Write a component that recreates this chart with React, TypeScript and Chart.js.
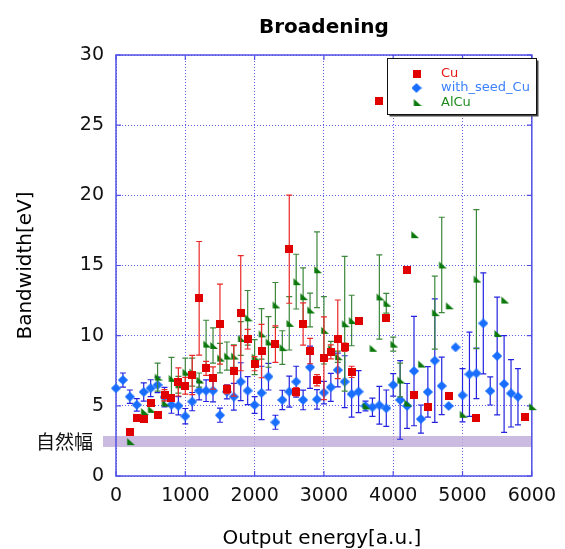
import { useEffect, useRef } from 'react';
import { Chart, registerables } from 'chart.js';

Chart.register(...registerables);

const FONT = '"DejaVu Sans", "Liberation Sans", Arial, sans-serif';

const titleText = 'Broadening';
const xTitle = 'Output energy[a.u.]';
const yTitle = 'Bandwidth[eV]';
const bandLabel = '自然幅';

const xTicks = [0, 1000, 2000, 3000, 4000, 5000, 6000];
const yTicks = [0, 5, 10, 15, 20, 25, 30];
const naturalBand = [2.07, 2.85];

const cuX = [200, 300, 400, 500, 600, 700, 800, 900, 1000, 1100, 1200, 1300, 1400, 1500, 1600, 1700, 1800, 1900, 2000, 2100, 2300, 2500, 2600, 2700, 2800, 2900, 3000, 3100, 3200, 3300, 3400, 3500, 3800, 3900, 4200, 4300, 4500, 4800, 5200, 5900];
const cuY = [3.1, 4.1, 4.05, 5.18, 4.35, 5.75, 5.55, 6.7, 6.43, 7.2, 12.66, 7.67, 6.98, 10.82, 6.17, 7.49, 11.6, 9.75, 8.0, 8.9, 9.4, 16.16, 6.0, 10.83, 8.9, 6.82, 8.39, 8.84, 9.74, 9.17, 7.42, 11.07, 26.73, 11.24, 14.68, 5.77, 4.94, 5.68, 4.16, 4.23];
const cuErr = [0, 0, 0, 0, 0, 0.4, 0, 1.0, 0.6, 1.4, 4.05, 0.5, 0.8, 2.85, 0.3, 1.8, 4.1, 0.7, 0.5, 1.9, 1.3, 3.85, 0.3, 1.5, 0.9, 0.4, 2.95, 0.5, 2.8, 0.3, 0.4, 0, 0, 0, 0, 0, 0, 0, 0, 0];

const seedX = [0, 100, 200, 300, 400, 500, 600, 700, 800, 900, 1000, 1100, 1200, 1300, 1400, 1500, 1600, 1700, 1800, 1900, 2000, 2100, 2200, 2300, 2400, 2500, 2600, 2700, 2800, 2900, 3000, 3100, 3200, 3300, 3400, 3500, 3600, 3700, 3800, 3900, 4000, 4100, 4200, 4300, 4400, 4500, 4600, 4700, 4800, 4900, 5000, 5100, 5200, 5300, 5400, 5500, 5600, 5700, 5800];
const seedY = [6.25, 6.84, 5.65, 5.07, 5.99, 6.26, 6.49, 5.62, 5.07, 5.0, 4.26, 5.3, 6.08, 6.08, 6.08, 4.33, 6.0, 5.65, 6.72, 6.08, 5.06, 5.92, 7.08, 3.83, 5.42, 6.01, 6.72, 5.42, 7.75, 5.46, 5.94, 6.32, 7.55, 6.72, 5.84, 6.01, 4.99, 4.9, 5.04, 4.83, 6.49, 5.42, 4.99, 7.48, 4.06, 5.99, 8.22, 6.42, 4.99, 9.17, 5.75, 7.25, 7.32, 10.88, 6.06, 8.55, 6.56, 5.89, 5.65];
const seedErr = [0, 0.5, 0.48, 0.45, 0.65, 0.6, 0.55, 0.7, 0.6, 0.65, 0.55, 0.65, 0.65, 0.77, 0.8, 0.5, 0.5, 0.95, 1.35, 1.0, 0.6, 1.9, 0.95, 0.5, 0.69, 1.1, 1.1, 0.7, 1.5, 0.7, 0.8, 1.0, 1.2, 1.85, 1.65, 1.5, 0.35, 0.65, 1.35, 1.3, 0.8, 2.8, 1.6, 3.9, 1.0, 1.8, 4.4, 2.05, 0, 0, 1.9, 3.0, 1.8, 3.6, 1.0, 4.2, 3.45, 2.4, 2.0];

const alX = [200, 300, 400, 500, 600, 700, 800, 900, 1000, 1100, 1200, 1300, 1400, 1500, 1600, 1700, 1800, 1900, 2000, 2100, 2200, 2300, 2400, 2500, 2600, 2700, 2800, 2900, 3000, 3100, 3200, 3300, 3400, 3600, 3700, 3800, 3900, 4000, 4100, 4200, 4300, 4400, 4600, 4700, 4800, 5000, 5200, 5500, 5600, 6000];
const alY = [2.45, 4.2, 4.6, 4.75, 7.05, 5.2, 6.96, 6.5, 7.4, 7.4, 6.84, 9.4, 9.3, 8.4, 8.55, 8.55, 9.8, 11.27, 8.47, 10.13, 9.55, 12.19, 9.15, 10.88, 13.85, 12.78, 11.83, 14.7, 10.38, 9.1, 8.5, 10.85, 11.08, 5.0, 9.1, 12.76, 12.31, 9.4, 6.84, 5.2, 17.2, 7.98, 11.64, 15.04, 12.13, 4.4, 14.03, 10.15, 12.54, 4.94];
const alErr = [0, 0, 0, 0, 1.0, 0, 1.5, 0.6, 1.0, 1.0, 0.5, 1.7, 1.25, 1.05, 1.0, 0.8, 1.2, 1.95, 1.25, 1.8, 1.8, 1.6, 1.2, 1.9, 1.95, 2.05, 1.2, 2.7, 2.4, 0.5, 0.4, 4.8, 1.8, 0, 0, 3.0, 0.7, 0.5, 1.2, 0, 0, 0, 2.6, 3.4, 0, 0, 4.95, 0, 0, 0];

const RED = 'rgb(225,0,0)';
const BLUE = 'rgb(25,110,255)';
const GREEN = 'rgb(10,120,10)';

function makeCanvas(w: number, h: number, draw: (c: CanvasRenderingContext2D) => void) {
  const c = document.createElement('canvas');
  c.width = w;
  c.height = h;
  const ctx = c.getContext('2d')!;
  draw(ctx);
  return c;
}

const pts = (xs: number[], ys: number[]) => xs.map((x, i) => ({ x, y: ys[i] }));

const errorBarPlugin = {
  id: 'errorBars',
  beforeDatasetDraw(chart: any, args: any) {
    const ds = chart.data.datasets[args.index];
    const errs: number[] = ds.errors;
    if (!errs) return;
    const xs = args.meta.xScale;
    const ys = args.meta.yScale;
    const ctx = chart.ctx;
    ctx.save();
    ctx.strokeStyle = ds.errorColor;
    ctx.lineWidth = 1.2;
    ds.data.forEach((p: any, i: number) => {
      const e = errs[i];
      if (!e) return;
      const x = xs.getPixelForValue(p.x);
      const y1 = ys.getPixelForValue(p.y + e);
      const y2 = ys.getPixelForValue(p.y - e);
      ctx.beginPath();
      ctx.moveTo(x, y1);
      ctx.lineTo(x, y2);
      ctx.moveTo(x - 3, y1);
      ctx.lineTo(x + 3, y1);
      ctx.moveTo(x - 3, y2);
      ctx.lineTo(x + 3, y2);
      ctx.stroke();
    });
    ctx.restore();
  },
};

const framePlugin = {
  id: 'frame',
  beforeDatasetsDraw(chart: any) {
    const { ctx, chartArea: a, scales } = chart;
    const ys = scales.y;
    const xs = scales.x;
    ctx.save();
    // natural width band
    const yTop = ys.getPixelForValue(naturalBand[1]);
    const yBot = ys.getPixelForValue(naturalBand[0]);
    ctx.fillStyle = 'rgba(190,170,218,0.8)';
    ctx.fillRect(a.left - 13, yTop, a.right - a.left + 13, yBot - yTop);
    // frame
    ctx.strokeStyle = 'rgb(80,80,230)';
    ctx.lineWidth = 1.5;
    ctx.strokeRect(a.left, a.top, a.right - a.left, a.bottom - a.top);
    // inward ticks
    ctx.lineWidth = 1.2;
    ctx.beginPath();
    yTicks.forEach((v) => {
      const y = ys.getPixelForValue(v);
      ctx.moveTo(a.left, y);
      ctx.lineTo(a.left + 5, y);
      ctx.moveTo(a.right, y);
      ctx.lineTo(a.right - 5, y);
    });
    xTicks.forEach((v) => {
      const x = xs.getPixelForValue(v);
      ctx.moveTo(x, a.bottom);
      ctx.lineTo(x, a.bottom - 5);
      ctx.moveTo(x, a.top);
      ctx.lineTo(x, a.top + 5);
    });
    ctx.stroke();
    ctx.restore();
  },
};

const textPlugin = {
  id: 'texts',
  afterDraw(chart: any) {
    const { ctx, chartArea: a, scales } = chart;
    const cx = (a.left + a.right) / 2;
    const cy = (a.top + a.bottom) / 2;
    ctx.save();
    ctx.fillStyle = '#000';
    ctx.textAlign = 'center';
    ctx.textBaseline = 'alphabetic';
    ctx.font = `bold 20px ${FONT}`;
    ctx.fillText(titleText, cx, 33);
    ctx.font = `20px ${FONT}`;
    ctx.fillText(xTitle, cx - 2, 544);
    ctx.save();
    ctx.translate(30.5, cy);
    ctx.rotate(-Math.PI / 2);
    ctx.fillText(yTitle, 0, 0);
    ctx.restore();
    // band label
    const bandMid = scales.y.getPixelForValue((naturalBand[0] + naturalBand[1]) / 2);
    ctx.font = `19px "Noto Sans CJK JP", sans-serif`;
    ctx.textAlign = 'right';
    ctx.textBaseline = 'middle';
    ctx.fillStyle = '#111';
    ctx.fillText(bandLabel, 93, bandMid);

    // legend
    const lx = 387.5, ly = 58.5, lw = 149, lh = 56;
    ctx.fillStyle = '#444';
    ctx.fillRect(lx + 2, ly + 2, lw, lh);
    ctx.fillStyle = '#fff';
    ctx.fillRect(lx, ly, lw, lh);
    ctx.strokeStyle = '#111';
    ctx.lineWidth = 1;
    ctx.strokeRect(lx, ly, lw, lh);
    ctx.font = `13px ${FONT}`;
    ctx.textAlign = 'left';
    ctx.textBaseline = 'middle';
    chart.data.datasets.forEach((ds: any, i: number) => {
      const y = 73.5 + i * 14.5;
      const img = ds.pointStyle as HTMLCanvasElement;
      ctx.drawImage(img, 416.5 - img.width / 2, y - img.height / 2);
      ctx.fillStyle = ds.legendColor;
      ctx.fillText(ds.label, 441, y);
    });
    ctx.restore();
  },
};

export default function App() {
  const ref = useRef<HTMLCanvasElement>(null);
  useEffect(() => {
    const square = makeCanvas(8, 8, (c) => {
      c.fillStyle = RED;
      c.fillRect(0, 0, 8, 8);
    });
    const diamond = makeCanvas(10, 10, (c) => {
      c.fillStyle = BLUE;
      c.strokeStyle = BLUE;
      c.lineJoin = 'round';
      c.lineWidth = 1.2;
      c.beginPath();
      c.moveTo(5, 0.8);
      c.lineTo(9.2, 5);
      c.lineTo(5, 9.2);
      c.lineTo(0.8, 5);
      c.closePath();
      c.fill();
      c.stroke();
    });
    const tri = makeCanvas(10, 9, (c) => {
      c.fillStyle = GREEN;
      c.beginPath();
      c.moveTo(2.3, 1);
      c.lineTo(2.3, 8);
      c.lineTo(10, 8);
      c.closePath();
      c.fill();
    });
    const chart = new Chart(ref.current!, {
      type: 'scatter',
      data: {
        datasets: [
          {
            label: 'Cu',
            data: pts(cuX, cuY),
            pointStyle: square,
            pointRadius: 4,
            order: 0,
            errors: cuErr,
            errorColor: 'rgb(235,40,40)',
            legendColor: 'rgb(230,20,20)',
          } as any,
          {
            label: 'with_seed_Cu',
            data: pts(seedX, seedY),
            pointStyle: diamond,
            pointRadius: 4,
            order: 2,
            errors: seedErr,
            errorColor: 'rgb(35,35,225)',
            legendColor: 'rgb(60,130,255)',
          } as any,
          {
            label: 'AlCu',
            data: pts(alX, alY),
            pointStyle: tri,
            pointRadius: 4,
            order: 1,
            errors: alErr,
            errorColor: 'rgb(60,135,60)',
            legendColor: 'rgb(30,140,30)',
          } as any,
        ],
      },
      options: {
        responsive: false,
        animation: false,
        events: [],
        clip: false as any,
        layout: { padding: { top: 55, right: 28, left: 0, bottom: 0 } },
        plugins: { legend: { display: false }, title: { display: false }, tooltip: { enabled: false } },
        scales: {
          x: {
            type: 'linear',
            min: 0,
            max: 6000,
            afterFit: (s: any) => { s.height = 73; },
            afterBuildTicks: (s: any) => { s.ticks = xTicks.map((v) => ({ value: v })); },
            ticks: { padding: 9, maxRotation: 0, autoSkip: false, color: '#111', font: { family: FONT, size: 19 }, callback: (v: any) => String(v) },
            grid: { color: 'rgb(95,95,235)', lineWidth: 1, drawTicks: false },
            border: { display: false, dash: [1, 2] },
          },
          y: {
            type: 'linear',
            min: 0,
            max: 30,
            afterFit: (s: any) => { s.width = 116; },
            afterBuildTicks: (s: any) => { s.ticks = yTicks.map((v) => ({ value: v })); },
            ticks: { padding: 12, autoSkip: false, color: '#111', font: { family: FONT, size: 19 }, callback: (v: any) => String(v) },
            grid: { color: 'rgb(95,95,235)', lineWidth: 1, drawTicks: false },
            border: { display: false, dash: [1, 2] },
          },
        },
      },
      plugins: [framePlugin, errorBarPlugin, textPlugin],
    });
    return () => chart.destroy();
  }, []);
  return (
    <canvas
      ref={ref}
      width={565}
      height={549}
      style={{ position: 'fixed', left: 0, top: 0, width: 565, height: 549, background: '#fff' }}
    />
  );
}
